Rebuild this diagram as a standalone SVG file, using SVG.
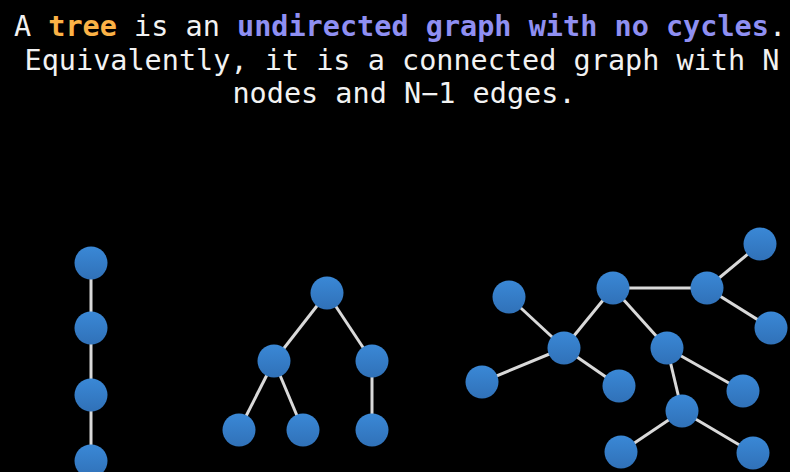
<svg xmlns="http://www.w3.org/2000/svg" width="790" height="472" viewBox="0 0 790 472">
<style>
.t{font-family:"DejaVu Sans Mono","Liberation Mono",monospace;font-size:28.5px;fill:#f2f2f2;text-anchor:middle}
.o{fill:#fbb246;font-weight:bold}
.p{fill:#8f8ff2;font-weight:bold}
.e{stroke:#d9d9d9;stroke-width:3;fill:none}
.n{fill:url(#g)}
</style>
<defs>
<linearGradient id="g" x1="0" y1="0" x2="0" y2="1">
<stop offset="0" stop-color="#3a88d6"/>
<stop offset="1" stop-color="#3071b8"/>
</linearGradient>
</defs>
<rect width="790" height="472" fill="#000"/>
<text class="t" x="400" y="36">A <tspan class="o">tree</tspan> is an <tspan class="p">undirected graph with no cycles</tspan>.</text>
<text class="t" x="402" y="70">Equivalently, it is a connected graph with N</text>
<text class="t" x="404" y="103">nodes and N−1 edges.</text>
<g id="connectors" class="e">
<line x1="91" y1="263" x2="91" y2="461"/>
<line x1="327" y1="293" x2="274" y2="361"/>
<line x1="327" y1="293" x2="372" y2="361"/>
<line x1="274" y1="361" x2="239" y2="430"/>
<line x1="274" y1="361" x2="303" y2="430"/>
<line x1="372" y1="361" x2="372" y2="430"/>
<line x1="509" y1="297" x2="564" y2="348"/>
<line x1="564" y1="348" x2="613" y2="288"/>
<line x1="564" y1="348" x2="482" y2="382"/>
<line x1="564" y1="348" x2="619" y2="386"/>
<line x1="613" y1="288" x2="707" y2="288"/>
<line x1="613" y1="288" x2="667" y2="348"/>
<line x1="707" y1="288" x2="760" y2="244"/>
<line x1="707" y1="288" x2="771" y2="328"/>
<line x1="667" y1="348" x2="743" y2="391"/>
<line x1="667" y1="348" x2="682" y2="411"/>
<line x1="682" y1="411" x2="621" y2="452"/>
<line x1="682" y1="411" x2="753" y2="453"/>
</g>
<g id="p1"><circle class="n" cx="91" cy="263" r="16.5"/></g>
<g id="p2"><circle class="n" cx="91" cy="328" r="16.5"/></g>
<g id="p3"><circle class="n" cx="91" cy="395" r="16.5"/></g>
<g id="p4"><circle class="n" cx="91" cy="461" r="16.5"/></g>
<g id="b1"><circle class="n" cx="327" cy="293" r="16.5"/></g>
<g id="b2"><circle class="n" cx="274" cy="361" r="16.5"/></g>
<g id="b3"><circle class="n" cx="372" cy="361" r="16.5"/></g>
<g id="b4"><circle class="n" cx="239" cy="430" r="16.5"/></g>
<g id="b5"><circle class="n" cx="303" cy="430" r="16.5"/></g>
<g id="b6"><circle class="n" cx="372" cy="430" r="16.5"/></g>
<g id="tA"><circle class="n" cx="509" cy="297" r="16.5"/></g>
<g id="tB"><circle class="n" cx="564" cy="348" r="16.5"/></g>
<g id="tC"><circle class="n" cx="613" cy="288" r="16.5"/></g>
<g id="tD"><circle class="n" cx="707" cy="288" r="16.5"/></g>
<g id="tE"><circle class="n" cx="760" cy="244" r="16.5"/></g>
<g id="tF"><circle class="n" cx="771" cy="328" r="16.5"/></g>
<g id="tG"><circle class="n" cx="667" cy="348" r="16.5"/></g>
<g id="tH"><circle class="n" cx="482" cy="382" r="16.5"/></g>
<g id="tI"><circle class="n" cx="619" cy="386" r="16.5"/></g>
<g id="tJ"><circle class="n" cx="743" cy="391" r="16.5"/></g>
<g id="tK"><circle class="n" cx="682" cy="411" r="16.5"/></g>
<g id="tL"><circle class="n" cx="621" cy="452" r="16.5"/></g>
<g id="tM"><circle class="n" cx="753" cy="453" r="16.5"/></g>
</svg>
